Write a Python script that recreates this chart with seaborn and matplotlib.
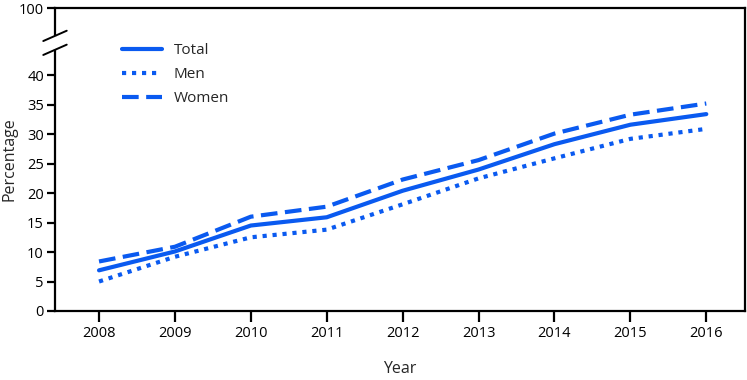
import numpy as np
import pandas as pd
import matplotlib
matplotlib.use("Agg")
import matplotlib.pyplot as plt
import seaborn as sns

sns.set_style("ticks")
plt.rcParams['font.family'] = ['Open Sans', 'DejaVu Sans']

years = [2008, 2009, 2010, 2011, 2012, 2013, 2014, 2015, 2016]
total = [6.9, 10.1, 14.5, 15.9, 20.4, 24.0, 28.3, 31.6, 33.4]
men = [5.0, 9.2, 12.5, 13.8, 18.1, 22.5, 25.9, 29.2, 30.9]
women = [8.4, 10.9, 16.0, 17.7, 22.3, 25.6, 30.1, 33.3, 35.2]
groups = ["Total", "Men", "Women"]
yticks = [0, 5, 10, 15, 20, 25, 30, 35, 40, 100]

df = pd.DataFrame({
    "Year": years * 3,
    "Percentage": total + men + women,
    "Group": np.repeat(groups, len(years)),
})

blue = "#0a5af0"

# broken y axis: 40-100 squeezed into a short band at the top
k = 0.19
def fwd(y):
    y = np.asarray(y, dtype=float)
    return np.where(y <= 40, y, 40 + (y - 40) * k)
def inv(y):
    y = np.asarray(y, dtype=float)
    return np.where(y <= 40, y, 40 + (y - 40) / k)

fig = plt.figure(figsize=(7.47, 3.80), dpi=100)
ax = fig.add_axes([55 / 747, 1 - 311 / 380, 690 / 747, 303 / 380])

sns.lineplot(data=df, x="Year", y="Percentage", style="Group",
             style_order=groups, color=blue, linewidth=3,
             dashes={"Total": "", "Men": (1, 1.4), "Women": (4, 1.8)},
             ax=ax)
for ln in ax.get_lines():
    ln.set_dash_capstyle("butt")

ax.set_yscale("function", functions=(fwd, inv))
ax.set_ylim(0, 100)
ax.set_yticks(yticks)
ax.set_yticklabels([str(t) for t in yticks])
ax.set_xlim(2007.42, 2016.51)
ax.set_xticks(years)
ax.set_xticklabels([str(y) for y in years])
ax.minorticks_off()

for s in ax.spines.values():
    s.set_linewidth(1.6)
    s.set_color("black")
ax.tick_params(axis="both", direction="out", width=1.6,
               labelsize=10.5, colors="black")
ax.tick_params(axis="x", length=8, pad=3)
ax.tick_params(axis="y", length=6, pad=2)

ax.set_xlabel("Year", fontsize=11.5, labelpad=14)
ax.set_ylabel("Percentage", fontsize=11.5, labelpad=1)

# break marks on the y axis
ax.plot([0, 0], [0.868, 0.901], transform=ax.transAxes, color="white",
        lw=3, clip_on=False, zorder=5)
for yc in [0.908, 0.862]:
    ax.plot([-0.017, 0.017], [yc - 0.017, yc + 0.017], transform=ax.transAxes,
            color="black", lw=1.4, clip_on=False, zorder=6)

leg = ax.legend(loc="upper left", bbox_to_anchor=(0.077, 0.93), frameon=False,
                fontsize=11, handlelength=2.6, handletextpad=0.8,
                labelspacing=0.6)
for h in leg.get_lines():
    h.set_linewidth(3)

fig.savefig("out.png", dpi=100)
